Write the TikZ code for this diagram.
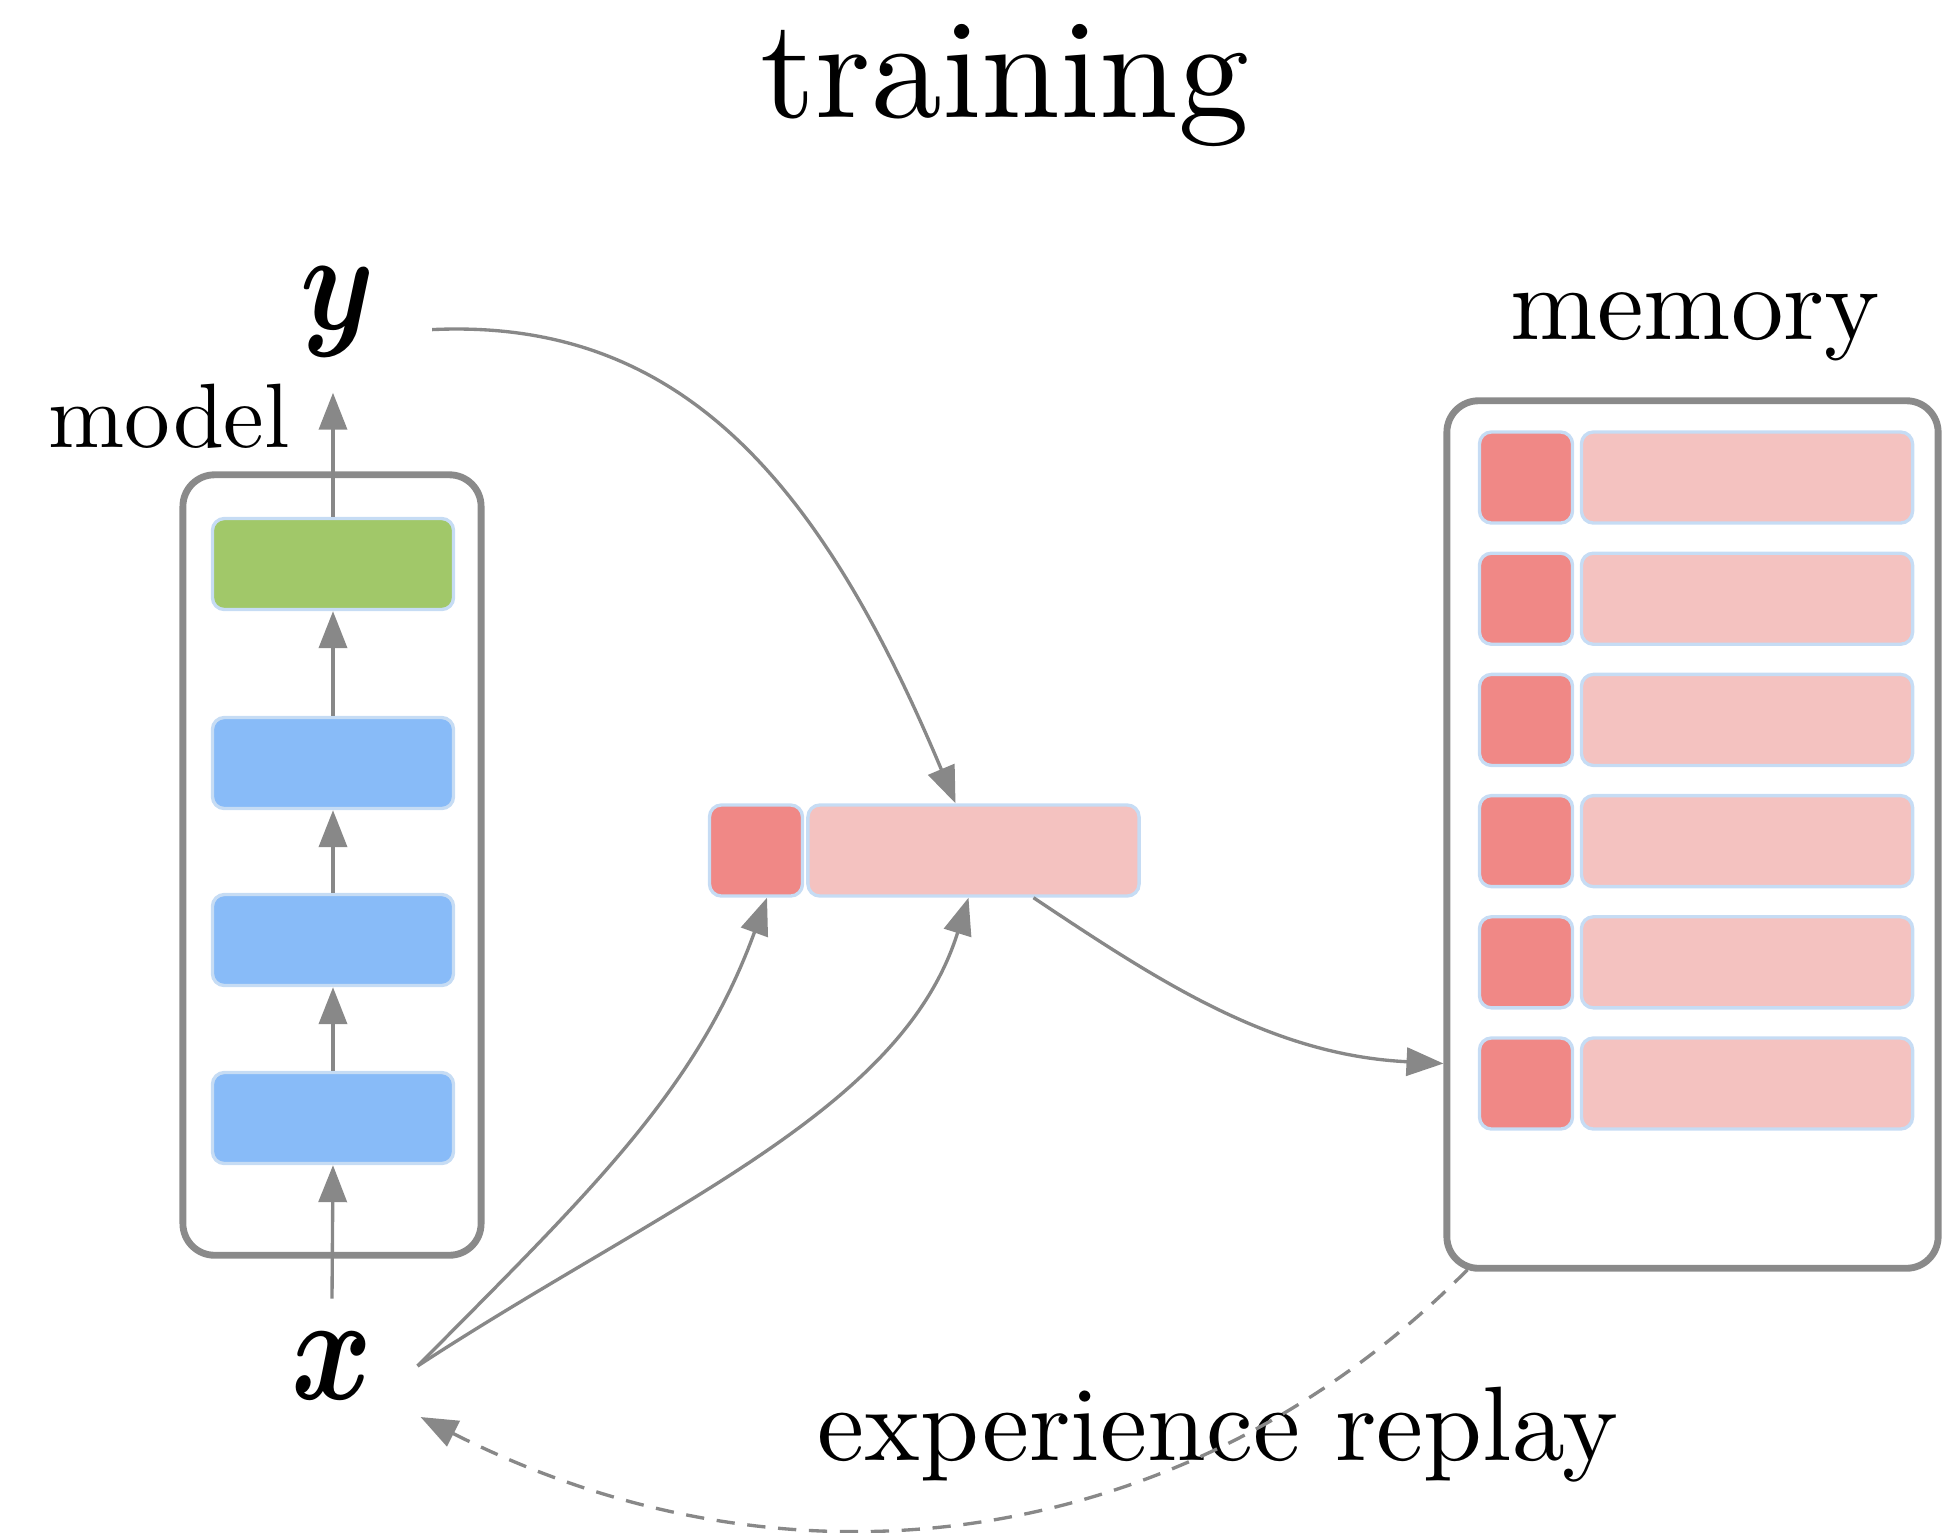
\documentclass[tikz,border=0pt]{standalone}
\usepackage{bm}
\usetikzlibrary{arrows.meta,calc}

\definecolor{linegray}{HTML}{888888}
\definecolor{framegray}{HTML}{8A8A8A}
\definecolor{cellborder}{HTML}{C6DCF4}
\definecolor{layergreen}{HTML}{A1C869}
\definecolor{layerblue}{HTML}{88BBF8}
\definecolor{keyred}{HTML}{F08886}
\definecolor{valpink}{HTML}{F4C2C0}

\begin{document}
\begin{tikzpicture}[x=0.01cm, y=-0.01cm,
  frame/.style={draw=framegray, line width=1.95pt, rounded corners=9pt, inner sep=0pt},
  cell/.style={draw=cellborder, line width=0.95pt, rounded corners=3.4pt, inner sep=0pt, minimum height=0.91cm},
  layer/.style={cell, minimum width=2.41cm},
  keycell/.style={cell, fill=keyred, minimum width=0.93cm},
  valcell/.style={cell, fill=valpink, minimum width=3.31cm},
  conn/.style={draw=linegray, line width=0.95pt, -{Triangle[length=10.5pt, width=8pt]}},
  replay/.style={conn, dash pattern=on 5.2pt off 3.6pt},
  label/.style={inner sep=0pt}]

\useasboundingbox (0,0) rectangle (1942,1532);

% title
\node[label, anchor=base] (title) at (1005,117) {\scalebox{4.03}{training}};

% model column
\node[frame, minimum width=2.98cm, minimum height=7.80cm] (model) at (332,865) {};
\node[label, anchor=base west] (modellab) at (48,447) {\scalebox{2.6}{model}};
\node[layer, fill=layergreen] (l1) at (333,564) {};
\node[layer, fill=layerblue]  (l2) at (333,763) {};
\node[layer, fill=layerblue]  (l3) at (333,940) {};
\node[layer, fill=layerblue]  (l4) at (333,1118) {};

% input and output symbols
\node[inner xsep=16pt, inner ysep=10pt] (ylab) at (338,312) {\scalebox{3.37}[4.0]{$\bm{y}$}};
\node[inner xsep=12.6pt, inner ysep=9.4pt] (xlab) at (332,1366) {\scalebox{3.5}[4.3]{$\bm{x}$}};

% current key/value pair
\node[keycell] (cred)  at (756,850.5) {};
\node[valcell] (cpink) at (973.5,850.5) {};

% memory
\node[label, anchor=base] (memlab) at (1695,339) {\scalebox{2.98}{memory}};
\node[frame, minimum width=4.91cm, minimum height=8.67cm] (mem) at (1692.5,834.5) {};
\foreach \i/\yy in {1/477.5, 2/598.7, 3/719.9, 4/841.1, 5/962.3, 6/1083.5} {
  \node[keycell] (mk\i) at (1526,\yy) {};
  \node[valcell] (mv\i) at (1747,\yy) {};
}

\node[label, anchor=base west] (replaylab) at (817,1460) {\scalebox{3.01}{experience replay}};

% forward pass through the model
\draw[conn] (xlab.north) -- (l4.south);
\draw[conn] (l4.north) -- (l3.south);
\draw[conn] (l3.north) -- (l2.south);
\draw[conn] (l2.north) -- (l1.south);
\draw[conn] (l1.north) -- (l1.north |- ylab.south);

% building the key/value pair
\draw[conn] (ylab.base east) .. controls (680,318) and (820,480) .. ($(cpink.north)+(-18,0)$);
\draw[conn] (xlab.east) .. controls (590,1192) and (697,1090) .. ($(cred.south)+(11,0)$);
\draw[conn] (xlab.east) .. controls (666,1204) and (902,1111) .. ($(cpink.south)+(-5,0)$);

% writing into memory
\draw[conn] ($(cpink.south)+(60,0)$) .. controls (1157,980) and (1270,1055) .. ($(mem.west)+(0,229)$);

% replaying stored samples
\draw[replay] ($(mem.south west)+(24,-2)$) .. controls (1204,1536) and (812,1615) .. ($(xlab.east)+(3,51)$);

\end{tikzpicture}
\end{document}
